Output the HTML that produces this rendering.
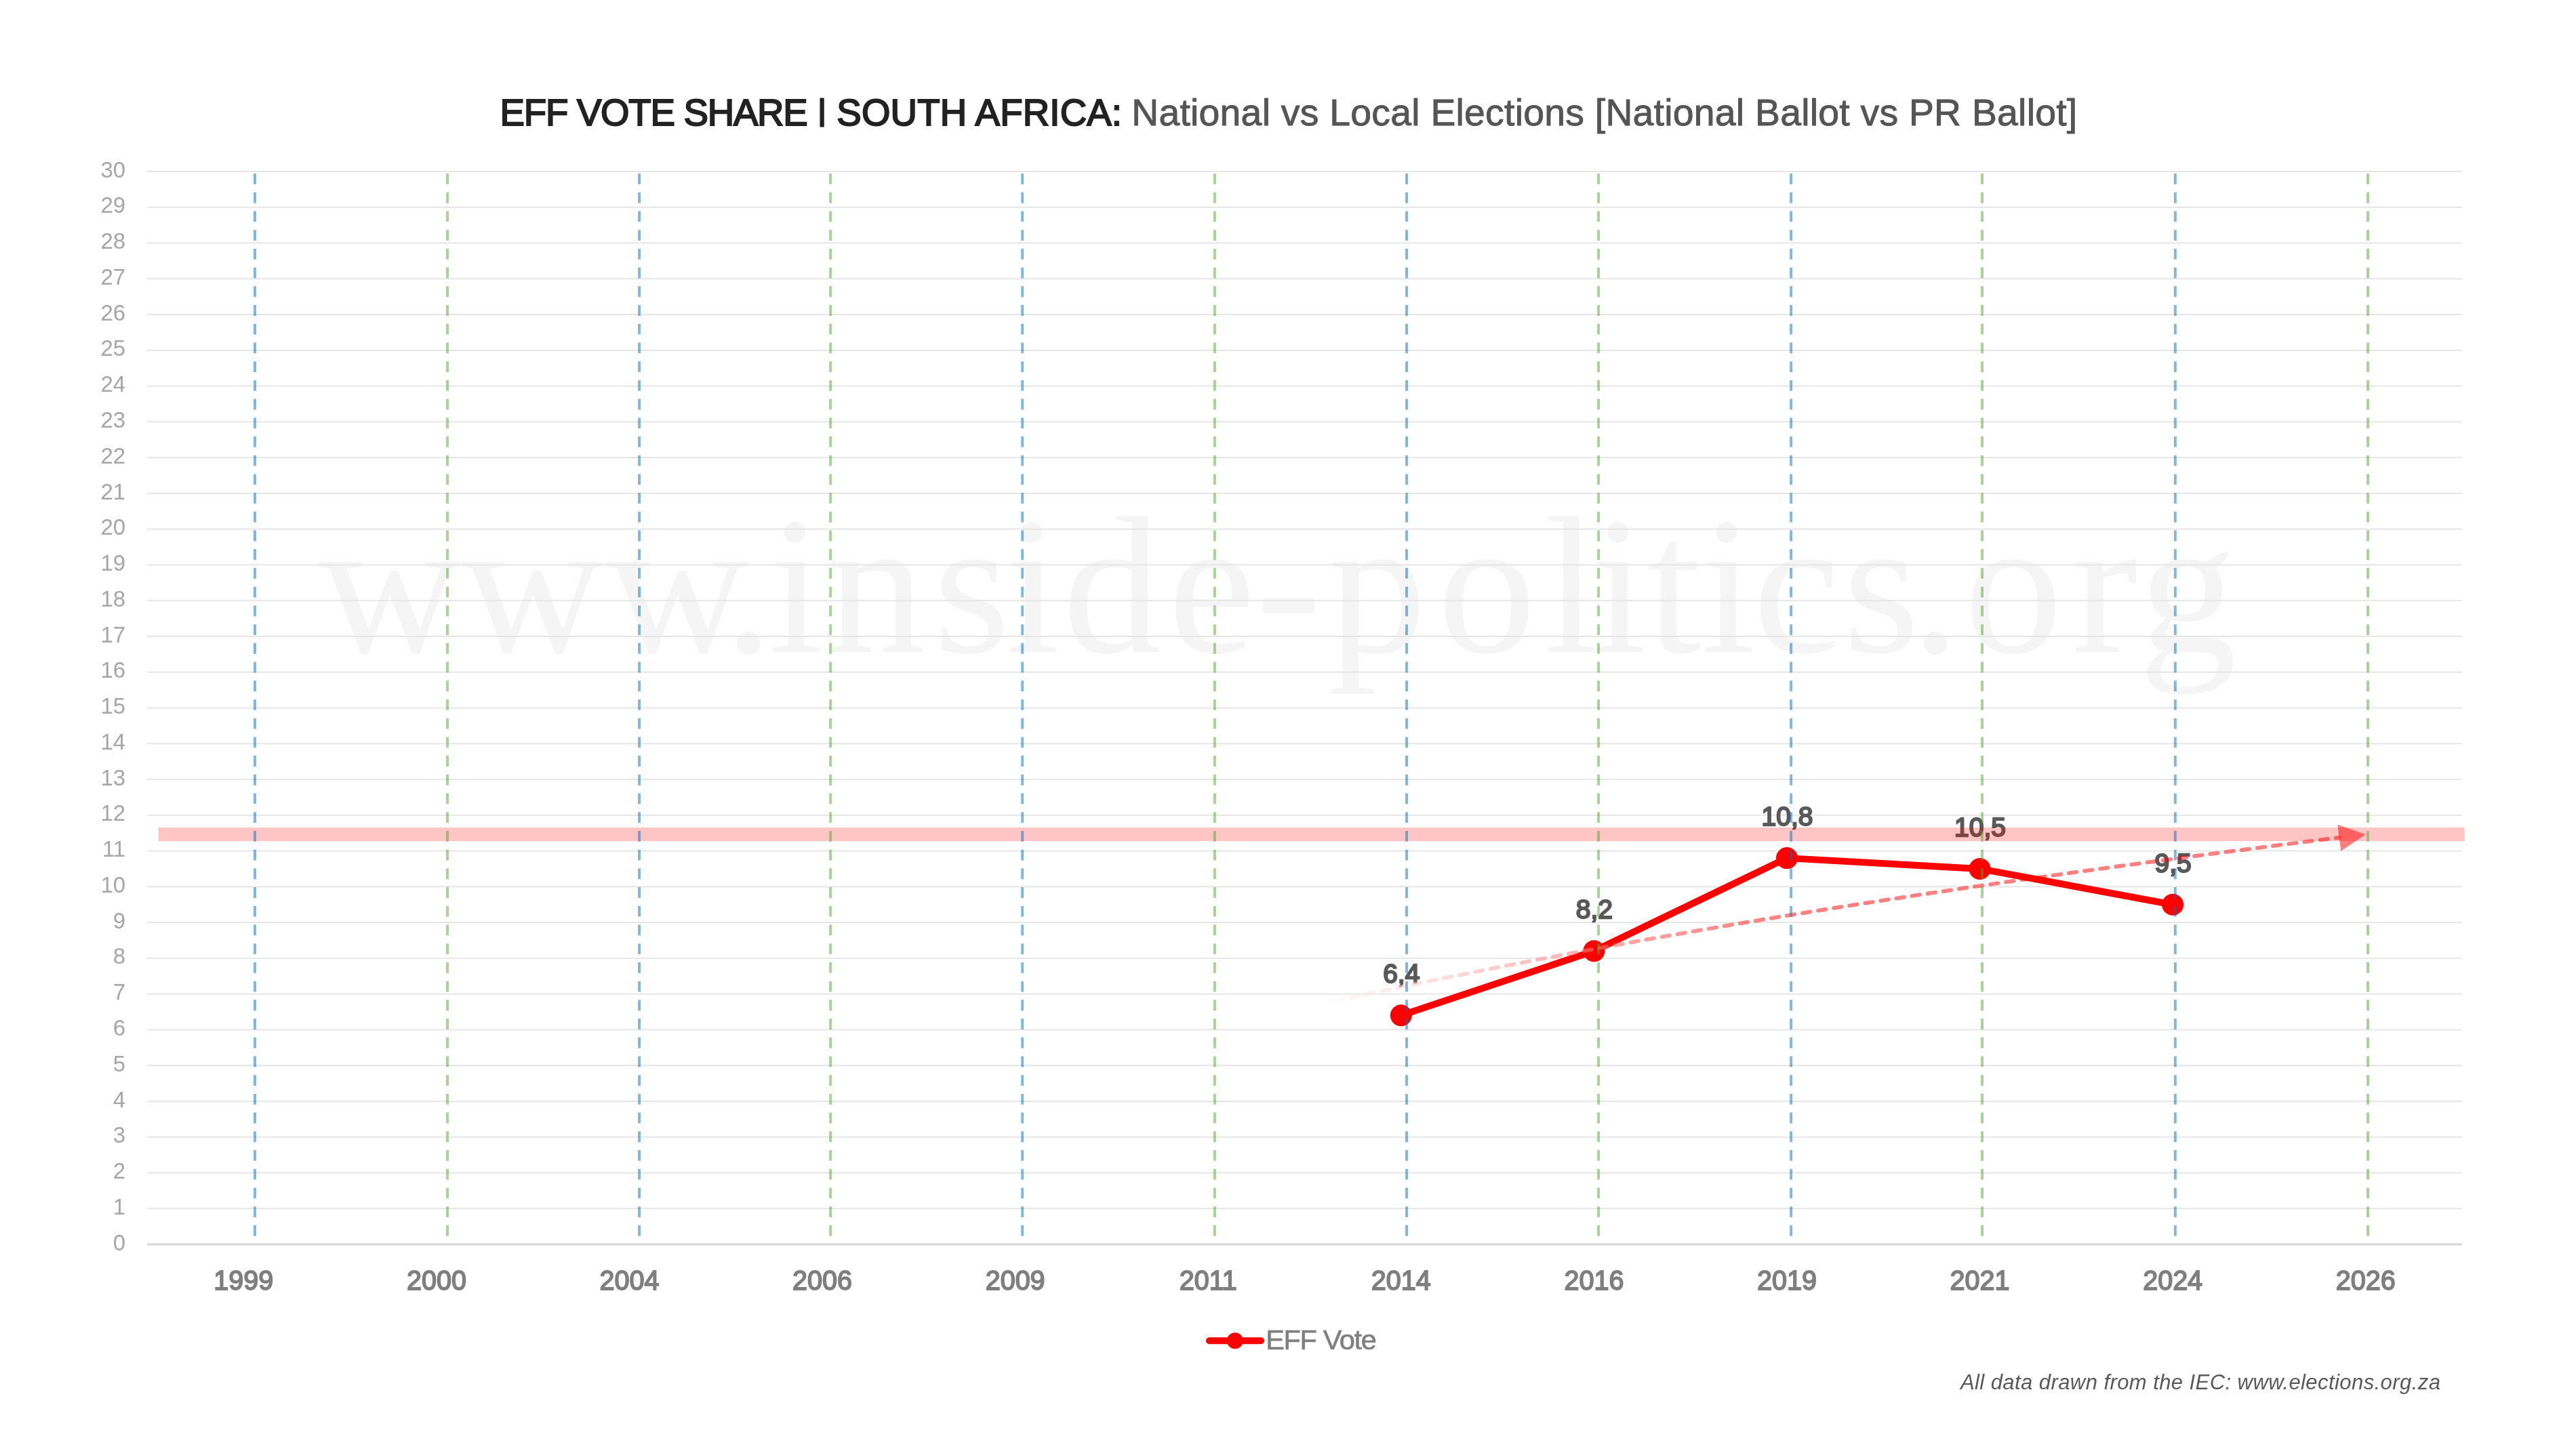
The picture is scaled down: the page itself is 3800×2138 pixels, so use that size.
<!DOCTYPE html>
<html lang="en"><head><meta charset="utf-8"><title>EFF Vote Share | South Africa</title>
<style>
html,body{margin:0;padding:0;background:#fff;}
body{width:3800px;height:2138px;overflow:hidden;font-family:"Liberation Sans",sans-serif;}
svg{display:block;will-change:transform;}
text{font-family:"Liberation Sans",sans-serif;}
.wm{font-family:"Liberation Serif",serif;fill:#f5f5f5;}
.yl{fill:#a6a6a6;font-size:33px;text-anchor:end;}
.xl{fill:#7f7f7f;stroke:#7f7f7f;stroke-width:1.8px;font-size:41px;text-anchor:middle;}
.dl{fill:#595959;stroke:#595959;stroke-width:2.3px;font-size:39px;text-anchor:middle;}
</style></head><body>
<svg width="3800" height="2138" viewBox="0 0 3800 2138">
<defs><linearGradient id="tg" gradientUnits="userSpaceOnUse" x1="1944" y1="0" x2="3490" y2="0">
<stop offset="0.0000" stop-color="#ffffff" stop-opacity="0.55"/>
<stop offset="0.2626" stop-color="#ff7777" stop-opacity="0.59"/>
<stop offset="0.4243" stop-color="#ff1e1e" stop-opacity="0.55"/>
<stop offset="0.5213" stop-color="#ff0000" stop-opacity="0.50"/>
<stop offset="1.0000" stop-color="#ff0000" stop-opacity="0.50"/>
</linearGradient></defs>
<rect width="3800" height="2138" fill="#ffffff"/>
<text class="wm" x="470.3 681.3 894.8 1068.2 1134.1 1219.9 1377.0 1483.4 1567.8 1723.2 1852.5 1959.1 2121.0 2277.4 2348.5 2429.0 2508.5 2586.2 2718.7 2818.7 2897.4 3056.6 3154.8" y="962" font-size="290">www.inside-politics.org</text>
<text y="184.85" font-size="54.6" fill="#222222" stroke="#222222" stroke-width="2"><tspan x="737.6" textLength="468" lengthAdjust="spacing">EFF VOTE SHARE </tspan><tspan x="1207.0" y="176.7" font-size="43" stroke-width="2.8">|</tspan><tspan x="1219.0" y="184.85" textLength="436" lengthAdjust="spacing"> SOUTH AFRICA:</tspan></text>
<text x="1669.2" y="185.43" font-size="55.3" fill="#555555" stroke="#555555" stroke-width="0.94" textLength="1395" lengthAdjust="spacing">National vs Local Elections [National Ballot vs PR Ballot]</text>
<g fill="#e6e6e6">
<rect x="217.0" y="1782.23" width="3415.0" height="2"/>
<rect x="217.0" y="1729.47" width="3415.0" height="2"/>
<rect x="217.0" y="1676.70" width="3415.0" height="2"/>
<rect x="217.0" y="1623.93" width="3415.0" height="2"/>
<rect x="217.0" y="1571.17" width="3415.0" height="2"/>
<rect x="217.0" y="1518.40" width="3415.0" height="2"/>
<rect x="217.0" y="1465.63" width="3415.0" height="2"/>
<rect x="217.0" y="1412.87" width="3415.0" height="2"/>
<rect x="217.0" y="1360.10" width="3415.0" height="2"/>
<rect x="217.0" y="1307.33" width="3415.0" height="2"/>
<rect x="217.0" y="1254.57" width="3415.0" height="2"/>
<rect x="217.0" y="1201.80" width="3415.0" height="2"/>
<rect x="217.0" y="1149.03" width="3415.0" height="2"/>
<rect x="217.0" y="1096.27" width="3415.0" height="2"/>
<rect x="217.0" y="1043.50" width="3415.0" height="2"/>
<rect x="217.0" y="990.73" width="3415.0" height="2"/>
<rect x="217.0" y="937.97" width="3415.0" height="2"/>
<rect x="217.0" y="885.20" width="3415.0" height="2"/>
<rect x="217.0" y="832.43" width="3415.0" height="2"/>
<rect x="217.0" y="779.67" width="3415.0" height="2"/>
<rect x="217.0" y="726.90" width="3415.0" height="2"/>
<rect x="217.0" y="674.13" width="3415.0" height="2"/>
<rect x="217.0" y="621.37" width="3415.0" height="2"/>
<rect x="217.0" y="568.60" width="3415.0" height="2"/>
<rect x="217.0" y="515.83" width="3415.0" height="2"/>
<rect x="217.0" y="463.07" width="3415.0" height="2"/>
<rect x="217.0" y="410.30" width="3415.0" height="2"/>
<rect x="217.0" y="357.53" width="3415.0" height="2"/>
<rect x="217.0" y="304.77" width="3415.0" height="2"/>
<rect x="217.0" y="252.00" width="3415.0" height="2"/>
</g>
<rect x="217.0" y="1834.50" width="3415.0" height="3" fill="#d6d6d6"/>
<g class="yl">
<text x="185.2" y="1844.60">0</text>
<text x="185.2" y="1791.83">1</text>
<text x="185.2" y="1739.07">2</text>
<text x="185.2" y="1686.30">3</text>
<text x="185.2" y="1633.53">4</text>
<text x="185.2" y="1580.77">5</text>
<text x="185.2" y="1528.00">6</text>
<text x="185.2" y="1475.23">7</text>
<text x="185.2" y="1422.47">8</text>
<text x="185.2" y="1369.70">9</text>
<text x="185.2" y="1316.93">10</text>
<text x="185.2" y="1264.17">11</text>
<text x="185.2" y="1211.40">12</text>
<text x="185.2" y="1158.63">13</text>
<text x="185.2" y="1105.87">14</text>
<text x="185.2" y="1053.10">15</text>
<text x="185.2" y="1000.33">16</text>
<text x="185.2" y="947.57">17</text>
<text x="185.2" y="894.80">18</text>
<text x="185.2" y="842.03">19</text>
<text x="185.2" y="789.27">20</text>
<text x="185.2" y="736.50">21</text>
<text x="185.2" y="683.73">22</text>
<text x="185.2" y="630.97">23</text>
<text x="185.2" y="578.20">24</text>
<text x="185.2" y="525.43">25</text>
<text x="185.2" y="472.67">26</text>
<text x="185.2" y="419.90">27</text>
<text x="185.2" y="367.13">28</text>
<text x="185.2" y="314.37">29</text>
<text x="185.2" y="261.60">30</text>
</g>
<g class="xl">
<text transform="translate(359.29,1902.6) scale(0.965,1)">1999</text>
<text transform="translate(643.88,1902.6) scale(0.965,1)">2000</text>
<text transform="translate(928.46,1902.6) scale(0.965,1)">2004</text>
<text transform="translate(1213.04,1902.6) scale(0.965,1)">2006</text>
<text transform="translate(1497.62,1902.6) scale(0.965,1)">2009</text>
<text transform="translate(1782.21,1902.6) scale(0.965,1)">2011</text>
<text transform="translate(2066.79,1902.6) scale(0.965,1)">2014</text>
<text transform="translate(2351.38,1902.6) scale(0.965,1)">2016</text>
<text transform="translate(2635.96,1902.6) scale(0.965,1)">2019</text>
<text transform="translate(2920.54,1902.6) scale(0.965,1)">2021</text>
<text transform="translate(3205.12,1902.6) scale(0.965,1)">2024</text>
<text transform="translate(3489.71,1902.6) scale(0.965,1)">2026</text>
</g>
<polyline points="2066.79,1498.29 2351.38,1403.31 2635.96,1266.12 2920.54,1281.95 3205.12,1334.72" fill="none" stroke="#ff0000" stroke-width="10" stroke-linejoin="round" stroke-linecap="round"/>
<g fill="#ff0000">
<circle cx="2066.79" cy="1498.29" r="16"/>
<circle cx="2351.38" cy="1403.31" r="16"/>
<circle cx="2635.96" cy="1266.12" r="16"/>
<circle cx="2920.54" cy="1281.95" r="16"/>
<circle cx="3205.12" cy="1334.72" r="16"/>
</g>
<g class="dl">
<text transform="translate(2067.29,1450.19) scale(1,1)">6,4</text>
<text transform="translate(2351.88,1355.21) scale(1,1)">8,2</text>
<text transform="translate(2636.46,1218.02) scale(1,1)">10,8</text>
<text transform="translate(2921.04,1233.85) scale(1,1)">10,5</text>
<text transform="translate(3205.62,1286.62) scale(1,1)">9,5</text>
</g>
<path d="M1924.3,1487.04 L1941.5,1483.23 L1958.6,1479.45 L1975.8,1475.69 L1992.9,1471.97 L2010.1,1468.28 L2027.2,1464.61 L2044.4,1460.98 L2061.5,1457.37 L2078.7,1453.79 L2095.8,1450.24 L2113.0,1446.71 L2130.1,1443.21 L2147.3,1439.74 L2164.4,1436.29 L2181.6,1432.87 L2198.7,1429.48 L2215.9,1426.11 L2233.0,1422.77 L2250.2,1419.45 L2267.3,1416.16 L2284.5,1412.90 L2301.6,1409.65 L2318.8,1406.44 L2335.9,1403.24 L2353.1,1400.07 L2370.2,1396.93 L2387.4,1393.80 L2404.5,1390.71 L2421.7,1387.63 L2438.8,1384.58 L2456.0,1381.54 L2473.1,1378.53 L2490.3,1375.55 L2507.4,1372.58 L2524.6,1369.64 L2541.7,1366.71 L2558.9,1363.81 L2576.0,1360.93 L2593.2,1358.07 L2610.3,1355.23 L2627.5,1352.41 L2644.6,1349.61 L2661.8,1346.83 L2678.9,1344.07 L2696.1,1341.33 L2713.3,1338.60 L2730.4,1335.90 L2747.6,1333.21 L2764.7,1330.54 L2781.9,1327.89 L2799.0,1325.26 L2816.2,1322.64 L2833.3,1320.04 L2850.5,1317.46 L2867.6,1314.89 L2884.8,1312.34 L2901.9,1309.81 L2919.1,1307.30 L2936.2,1304.79 L2953.4,1302.31 L2970.5,1299.84 L2987.7,1297.38 L3004.8,1294.94 L3022.0,1292.51 L3039.1,1290.10 L3056.3,1287.70 L3073.4,1285.32 L3090.6,1282.95 L3107.7,1280.59 L3124.9,1278.25 L3142.0,1275.91 L3159.2,1273.60 L3176.3,1271.29 L3193.5,1268.99 L3210.6,1266.71 L3227.8,1264.44 L3244.9,1262.18 L3262.1,1259.93 L3279.2,1257.69 L3296.4,1255.46 L3313.5,1253.25 L3330.7,1251.04 L3347.8,1248.84 L3365.0,1246.65 L3382.1,1244.47 L3399.3,1242.31 L3416.4,1240.14 L3433.6,1237.99 L3450.8,1235.85" fill="none" stroke="url(#tg)" stroke-width="5.83" stroke-dasharray="11.69 11.68" stroke-dashoffset="0" stroke-linecap="round" stroke-linejoin="round"/>
<polygon points="3489.7,1231.3 3448.2,1216.8 3453.3,1255.7" fill="#ff0000" fill-opacity="0.5"/>
<rect x="234" y="1221" width="3401.7" height="20" fill="#ff0000" fill-opacity="0.23"/>
<line x1="376.00" y1="256.1" x2="376.00" y2="1824.2" stroke="#0070c0" stroke-opacity="0.5" stroke-width="3.96" stroke-dasharray="15.83 11.88"/>
<line x1="660.05" y1="256.1" x2="660.05" y2="1824.2" stroke="#4ea72e" stroke-opacity="0.5" stroke-width="3.96" stroke-dasharray="15.83 11.88"/>
<line x1="943.07" y1="256.1" x2="943.07" y2="1824.2" stroke="#0070c0" stroke-opacity="0.5" stroke-width="3.96" stroke-dasharray="15.83 11.88"/>
<line x1="1225.10" y1="256.1" x2="1225.10" y2="1824.2" stroke="#4ea72e" stroke-opacity="0.5" stroke-width="3.96" stroke-dasharray="15.83 11.88"/>
<line x1="1508.20" y1="256.1" x2="1508.20" y2="1824.2" stroke="#0070c0" stroke-opacity="0.5" stroke-width="3.96" stroke-dasharray="15.83 11.88"/>
<line x1="1791.90" y1="256.1" x2="1791.90" y2="1824.2" stroke="#4ea72e" stroke-opacity="0.5" stroke-width="3.96" stroke-dasharray="15.83 11.88"/>
<line x1="2075.00" y1="256.1" x2="2075.00" y2="1824.2" stroke="#0070c0" stroke-opacity="0.5" stroke-width="3.96" stroke-dasharray="15.83 11.88"/>
<line x1="2358.10" y1="256.1" x2="2358.10" y2="1824.2" stroke="#4ea72e" stroke-opacity="0.5" stroke-width="3.96" stroke-dasharray="15.83 11.88"/>
<line x1="2642.10" y1="256.1" x2="2642.10" y2="1824.2" stroke="#0070c0" stroke-opacity="0.5" stroke-width="3.96" stroke-dasharray="15.83 11.88"/>
<line x1="2924.00" y1="256.1" x2="2924.00" y2="1824.2" stroke="#4ea72e" stroke-opacity="0.5" stroke-width="3.96" stroke-dasharray="15.83 11.88"/>
<line x1="3208.80" y1="256.1" x2="3208.80" y2="1824.2" stroke="#0070c0" stroke-opacity="0.5" stroke-width="3.96" stroke-dasharray="15.83 11.88"/>
<line x1="3493.00" y1="256.1" x2="3493.00" y2="1824.2" stroke="#4ea72e" stroke-opacity="0.5" stroke-width="3.96" stroke-dasharray="15.83 11.88"/>
<line x1="1784" y1="1978.3" x2="1860" y2="1978.3" stroke="#ff0000" stroke-width="10" stroke-linecap="round"/>
<circle cx="1821.9" cy="1978.3" r="12" fill="#ff0000"/>
<text x="1867.2" y="1990.6" font-size="41.5" fill="#7f7f7f" stroke="#7f7f7f" stroke-width="0.6" textLength="163.6" lengthAdjust="spacing">EFF Vote</text>
<text x="2891.9" y="2049.6" font-size="31" font-style="italic" fill="#595959" textLength="708" lengthAdjust="spacing">All data drawn from the IEC: www.elections.org.za</text>
</svg></body></html>
